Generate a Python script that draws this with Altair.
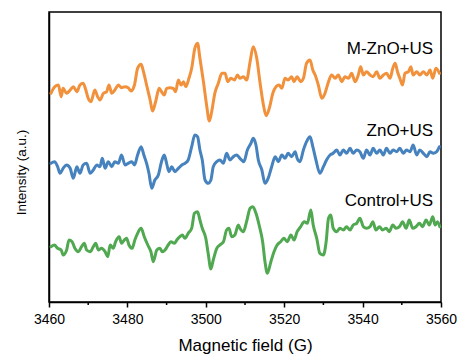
import altair as alt
import pandas as pd

# ---- data ----
orange_field = [3460.5, 3461.5, 3462.4, 3463.1, 3463.6, 3464.5, 3465.4, 3466.2, 3467.1, 3467.9,
                3468.7, 3469.4, 3470.0, 3470.7, 3471.7, 3472.4, 3473.0, 3473.9, 3474.7, 3475.3,
                3476.0, 3476.8, 3477.7, 3478.5, 3479.4, 3480.2, 3480.9, 3481.8, 3482.6, 3483.5,
                3484.1, 3484.9, 3485.8, 3486.4, 3487.2, 3488.1, 3488.7, 3489.4, 3490.0, 3490.9,
                3491.7, 3492.3, 3493.0, 3493.7, 3494.3, 3494.9, 3495.7, 3496.4, 3497.2, 3497.9,
                3498.5, 3499.4, 3500.2, 3500.9, 3501.5, 3502.3, 3503.2, 3504.1, 3504.9, 3505.6,
                3506.4, 3507.3, 3508.1,
                3508.7, 3509.6, 3510.4, 3511.3, 3512.1, 3513.0, 3513.8, 3514.7, 3515.4, 3516.2,
                3517.1, 3517.9, 3518.7, 3519.4, 3520.2, 3521.0, 3521.9, 3522.5, 3523.3, 3524.2,
                3524.9, 3525.7, 3526.6, 3527.3, 3527.9, 3528.7, 3529.6, 3530.4, 3531.3, 3532.1,
                3533.0, 3533.8, 3534.7, 3535.5, 3536.4, 3537.2, 3538.1, 3538.9, 3539.5, 3540.2,
                3541.0, 3541.9, 3542.7, 3543.6, 3544.4, 3545.3, 3546.1, 3547.0, 3547.7, 3548.3,
                3548.9, 3549.5, 3550.2, 3550.8, 3551.7, 3552.3, 3552.9, 3553.8, 3554.6, 3555.5,
                3556.4, 3557.2, 3557.9, 3558.7, 3559.6]
orange_int = [208.7, 215.3, 217, 205.3, 213.7, 208.7, 212, 215.3, 210.3, 217,
              218.7, 212, 203.7, 200.3, 212, 205.3, 202, 208.7, 210.3, 217,
              208.7, 212, 217, 214.3, 215.3, 214.3, 211, 217, 233.7, 237.7,
              230.3, 217, 202, 191, 200.3, 213.7, 210.3, 207, 213.7, 214.3,
              213.7, 210.3, 222, 217, 220.3, 215.3, 223.7, 233.7, 253.7, 258.7,
              243.7, 220.3, 197, 181, 190.3, 208.7, 218.7, 228.7, 228.7, 220.3,
              223.7, 222, 227,
              223.7, 225.3, 222, 240.3, 255.3, 243.7, 220.3, 197, 186.3, 193.7,
              208.7, 215.3, 217, 213.7, 223.7, 222, 225.3, 220.3, 225.3, 220.3,
              223.7, 238.7, 242, 232, 227, 217, 203.7, 208.7, 220.3, 227,
              223.7, 227, 220.3, 225.3, 223.7, 228.7, 220.3, 227, 235.3, 227,
              230.3, 227, 225.3, 230.3, 223.7, 227, 228.7, 223.7, 233.7, 238.7,
              230.3, 223.7, 217, 228.7, 230.3, 235.3, 227, 230.3, 227, 230.3,
              227, 232, 223.7, 233.7, 228.7]

blue_field = [3460.5, 3461.4, 3462.2, 3462.8, 3463.6, 3464.5, 3465.4, 3466.2, 3467.1, 3467.9,
              3468.7, 3469.6, 3470.5, 3471.3, 3472.2, 3473.0, 3473.6, 3474.3, 3475.1, 3476.0,
              3476.8, 3477.7, 3478.5, 3479.4, 3480.2, 3481.1, 3481.8, 3482.6, 3483.5, 3484.2,
              3484.9, 3485.5, 3486.2, 3487.0, 3487.9, 3488.7, 3489.4, 3490.0, 3490.6, 3491.3,
              3492.1, 3493.0, 3493.9, 3494.7, 3495.5, 3496.4, 3497.2, 3497.9, 3498.5, 3499.1,
              3499.8, 3500.6, 3501.3, 3501.9, 3502.8, 3503.6, 3504.5, 3505.3, 3506.2, 3507.0,
              3507.9,
              3508.7, 3509.7, 3510.6, 3511.5, 3512.1, 3512.8, 3513.4, 3514.3, 3515.1, 3515.9,
              3516.8, 3517.7, 3518.5, 3519.4, 3520.2, 3521.0, 3521.9, 3522.8, 3523.3, 3524.0,
              3524.9, 3525.7, 3526.6, 3527.3, 3528.1, 3529.1, 3530.0, 3530.8, 3531.7, 3532.5,
              3533.4, 3534.2, 3535.1, 3535.9, 3536.8, 3537.6, 3538.5, 3539.3, 3540.2, 3541.0,
              3541.9, 3542.7, 3543.6, 3544.4, 3545.3, 3546.1, 3547.0, 3547.8, 3548.7, 3549.5,
              3550.4, 3551.2, 3552.1, 3552.9, 3553.8, 3554.6, 3555.5, 3556.4, 3557.2, 3558.0,
              3558.9, 3559.6]
blue_int = [138.7, 140.3, 135.3, 128.7, 133.7, 137, 133.7, 123.7, 135.3, 128.7,
            137, 138.7, 128.7, 132, 137, 135.3, 143.7, 133.7, 140.3, 135.3,
            140.3, 138.7, 147, 137, 138.7, 140.3, 137, 147, 155.3, 147,
            138.7, 128.7, 113.7, 122, 127, 140.3, 147, 138.7, 130.3, 135.3,
            130.3, 133.7, 137, 138.7, 142, 155.3, 167, 165.3, 152, 142,
            122, 118.7, 122, 135.3, 140.3, 142, 138.7, 148.7, 142, 145.3,
            147,
            143.7, 140.3, 152, 158.7, 163.7, 157, 142, 132, 118.7, 123.7,
            135.3, 145.3, 140.3, 147, 143.7, 148.7, 145.3, 150.3, 143.7, 140.3,
            152, 160.3, 165.3, 155.3, 142, 128.7, 135.3, 142, 147, 148.7,
            152, 147, 152, 148.7, 153.7, 148.7, 152, 150.3, 143.7, 152,
            147, 153.7, 148.7, 152, 147, 153.7, 148.7, 152, 150.3, 153.7,
            148.7, 152, 150.3, 157, 147, 152, 148.7, 145.3, 150.3, 148.7,
            150.3, 155.3]

green_field = [3460.5, 3461.4, 3462.2, 3463.1, 3463.6, 3464.5, 3465.1, 3465.9, 3466.6, 3467.5,
               3468.3, 3469.0, 3469.6, 3470.5, 3471.3, 3471.9, 3472.6, 3473.4, 3474.3, 3475.0,
               3475.6, 3476.4, 3477.0, 3477.9, 3478.5, 3479.2, 3479.8, 3480.4, 3481.2, 3481.9,
               3482.6, 3483.5, 3484.3, 3485.2, 3486.0, 3486.6, 3487.5, 3488.3, 3488.9, 3489.6,
               3490.4, 3491.1, 3492.0, 3492.6, 3493.4, 3494.0, 3494.7, 3495.5, 3496.4, 3497.1,
               3497.9, 3498.5, 3499.1, 3500.0, 3500.6, 3501.3, 3501.9, 3502.8, 3503.6, 3504.5,
               3505.3, 3505.9, 3506.6, 3507.4, 3508.3,
               3508.7, 3509.6, 3510.4, 3511.3, 3512.0, 3512.8, 3513.6, 3514.5, 3515.1, 3515.7,
               3516.6, 3517.4, 3518.2, 3519.1, 3519.9, 3520.8, 3521.7, 3522.5, 3523.3, 3524.2,
               3525.1, 3525.9, 3526.8, 3527.4, 3528.3, 3529.1, 3530.0, 3530.7, 3531.3, 3531.9,
               3532.5, 3533.4, 3534.2, 3535.1, 3535.9, 3536.8, 3537.6, 3538.5, 3539.3, 3540.2,
               3541.0, 3541.9, 3542.6, 3543.4, 3544.3, 3545.1, 3546.0, 3546.8, 3547.7, 3548.5,
               3549.4, 3550.2, 3551.1, 3551.9, 3552.8, 3553.6, 3554.5, 3555.3, 3556.2, 3557.0,
               3557.9, 3558.5, 3559.1, 3559.7]
green_int = [55.3, 57, 53.7, 52, 47, 52, 62, 60.3, 53.7, 50.3,
             55.3, 58.7, 52, 50.3, 55.3, 58.7, 52, 53.7, 50.3, 45.3,
             57, 53.7, 60.3, 65.3, 58.7, 62, 63.7, 57, 53.7, 62,
             68.7, 73.7, 65.3, 57, 50.3, 40.3, 52, 53.7, 50.3, 52,
             57, 60.3, 58.7, 62, 65.3, 67, 63.7, 68.7, 73.7, 88.7,
             90.3, 82, 73.7, 63.7, 48.7, 33, 42, 53.7, 57, 60.3,
             72, 73.7, 65.3, 67, 77,
             73.7, 70.3, 80.3, 93.7, 95.3, 88.7, 77, 60.3, 40.3, 28.7,
             40.3, 50.3, 57, 60.3, 63.7, 60.3, 67, 62, 70.3, 75.3,
             80.3, 78.7, 92, 77, 63.7, 48.7, 47, 60.3, 83.7, 87,
             73.7, 70.3, 73.7, 72, 75.3, 72, 77, 78.7, 83.7, 75.3,
             73.7, 75.3, 80.3, 72, 75.3, 72, 73.7, 70.3, 77, 73.7,
             75.3, 80.3, 73.7, 82, 73.7, 75.3, 78.7, 75.3, 82, 77,
             85.3, 77, 80.3, 75.3]

series_names = ["M-ZnO+US", "ZnO+US", "Control+US"]
series_colors = ["#F2913C", "#4682BE", "#50A850"]
label_field = [3558, 3558, 3558]
label_int = [253, 171, 101]
major_ticks = [3460, 3480, 3500, 3520, 3540, 3560]
minor_ticks = [3470, 3490, 3510, 3530, 3550]

# ---- build table ----
rows = []
for name, fld, val in zip(series_names,
                          [orange_field, blue_field, green_field],
                          [orange_int, blue_int, green_int]):
    for f, v in zip(fld, val):
        rows.append({"series": name, "field": f, "intensity": v})
df = pd.DataFrame(rows)
labels_df = pd.DataFrame({"series": series_names, "field": label_field, "intensity": label_int})
minor_df = pd.DataFrame({"field": minor_ticks})

FONT = "Liberation Sans"
x_scale = alt.Scale(domain=[3460, 3560], nice=False, zero=False)
y_scale = alt.Scale(domain=[0, 290], nice=False, zero=False)
x_axis = alt.Axis(values=major_ticks, format="d", title="Magnetic field (G)",
                  grid=False, domain=True, domainColor="black", domainWidth=1.5,
                  ticks=True, tickSize=5, tickWidth=1.5, tickColor="black",
                  labelFlush=False, labelFontSize=14, labelPadding=5,
                  labelColor="black", labelFont=FONT,
                  titleFontSize=17, titleFont=FONT, titleFontWeight="normal",
                  titleColor="black", titlePadding=11)
y_axis = alt.Axis(labels=False, ticks=False, grid=False, domain=True,
                  domainColor="black", domainWidth=1.5,
                  title="Intensity (a.u.)", titleFontSize=13.5, titleFont=FONT,
                  titleFontWeight="normal", titleColor="black", titlePadding=21,
                  titleY=160)

lines = alt.Chart(df).mark_line(strokeWidth=3, strokeJoin="round", strokeCap="round",
                                interpolate="monotone").encode(
    x=alt.X("field:Q", scale=x_scale, axis=x_axis),
    y=alt.Y("intensity:Q", scale=y_scale, axis=y_axis),
    color=alt.Color("series:N", scale=alt.Scale(domain=series_names, range=series_colors), legend=None),
)

minor = alt.Chart(minor_df).mark_rule(color="black", strokeWidth=1.5).encode(
    x=alt.X("field:Q", scale=x_scale, axis=x_axis),
    y=alt.value(290),
    y2=alt.value(293),
)

texts = alt.Chart(labels_df).mark_text(align="right", baseline="middle", fontSize=17,
                                       font=FONT, color="black").encode(
    x=alt.X("field:Q", scale=x_scale, axis=x_axis),
    y=alt.Y("intensity:Q", scale=y_scale, axis=y_axis),
    text="series:N",
)

chart = alt.layer(lines, minor, texts).properties(
    width=392, height=290, autosize="none",
    padding={"left": 49, "top": 12, "right": 20, "bottom": 52},
    background="white",
).configure_view(stroke="black", strokeWidth=1.5)

chart.save("out.html", embed_options={"renderer": "svg", "actions": False})
